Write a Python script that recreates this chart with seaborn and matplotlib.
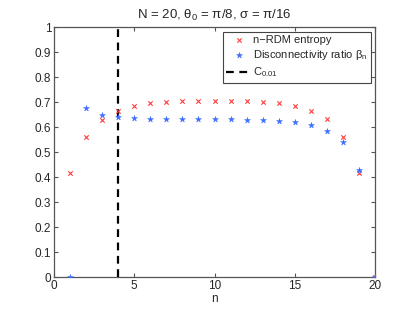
import matplotlib
matplotlib.use("Agg")
import matplotlib.pyplot as plt
import seaborn as sns
import pandas as pd

n_vals = list(range(1, 21))
entropy = [0.416, 0.561, 0.629, 0.665, 0.685, 0.695, 0.700, 0.704, 0.705, 0.706,
           0.705, 0.704, 0.701, 0.695, 0.684, 0.665, 0.631, 0.561, 0.415, 0.0]
beta = [0.0, 0.677, 0.647, 0.639, 0.635, 0.632, 0.631, 0.631, 0.631, 0.632,
        0.632, 0.629, 0.628, 0.625, 0.619, 0.607, 0.585, 0.539, 0.427, 0.0]
c_threshold = 4
x_ticks = [0, 5, 10, 15, 20]
y_ticks = [0, 0.1, 0.2, 0.3, 0.4, 0.5, 0.6, 0.7, 0.8, 0.9, 1]
y_ticklabels = ["0", "0.1", "0.2", "0.3", "0.4", "0.5", "0.6", "0.7", "0.8", "0.9", "1"]

sns.set_style("ticks")
plt.rcParams['font.family'] = ['Liberation Sans', 'DejaVu Sans']
plt.rcParams['mathtext.fontset'] = 'custom'
plt.rcParams['mathtext.rm'] = 'Liberation Sans'
plt.rcParams['mathtext.it'] = 'Liberation Sans:italic'

df = pd.DataFrame({"n": n_vals, "entropy": entropy, "beta": beta})

fig = plt.figure(figsize=(4.15, 3.12), dpi=100)
ax = fig.add_axes([0.130, 0.112, 0.774, 0.801])

sns.scatterplot(data=df, x="n", y="entropy", ax=ax, marker="x", color="#ff3a3a",
                s=10, linewidth=0.8, label="n\u2212RDM entropy", zorder=3)
sns.scatterplot(data=df, x="n", y="beta", ax=ax, marker="*", color="#3a6aff",
                s=20, linewidth=0.3, edgecolor="#3a6aff",
                label=r"Disconnectivity ratio $\mathregular{\beta_n}$", zorder=3)
ax.axvline(c_threshold, color="black", linestyle=(0, (3.5, 2.5)), linewidth=1.6,
           label=r"$\mathregular{C_{0.01}}$", zorder=2)

ax.set_xlim(0, 20)
ax.set_ylim(0, 1)
ax.set_xticks(x_ticks)
ax.set_yticks(y_ticks)
ax.set_yticklabels(y_ticklabels)
ax.set_xlabel("n", fontsize=8.5, labelpad=1)
ax.set_ylabel("")
ax.set_title(r"N = 20, $\mathregular{\theta_0}$ = π/8, σ = π/16", fontsize=9.5, pad=6)

for s in ax.spines.values():
    s.set_visible(True)
    s.set_color("#555555")
    s.set_linewidth(0.9)
ax.tick_params(direction="in", top=True, right=True, labelsize=8.5, length=3,
               color="#555555", pad=2)

leg = ax.legend(loc="upper right", fontsize=8, frameon=True, fancybox=False,
                edgecolor="#444444", framealpha=1, borderpad=0.3,
                handlelength=2.2, handletextpad=0.2, labelspacing=0.3,
                borderaxespad=0.4)
leg.get_frame().set_linewidth(0.8)

fig.savefig("out.png", dpi=100)
